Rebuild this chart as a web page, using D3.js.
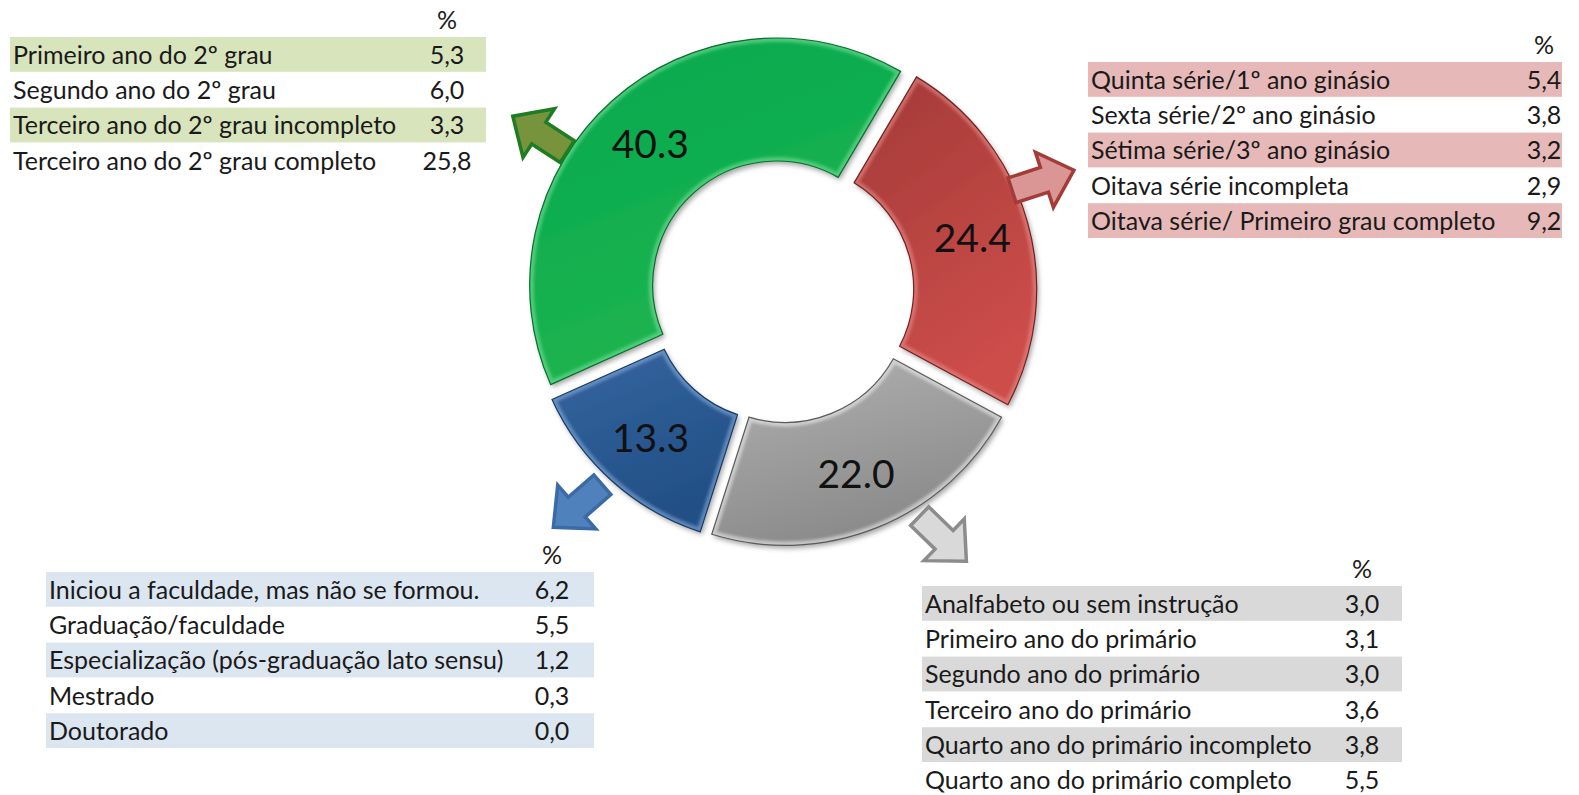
<!DOCTYPE html>
<html>
<head>
<meta charset="utf-8">
<script src="https://cdn.jsdelivr.net/npm/d3@7"></script>
<style>
  body { margin: 0; background: #fff; }
  svg { display: block; }
</style>
</head>
<body>
<script>
// donut slices, in drawing order (clockwise)
var segNames  = ["Ginásio", "Primário", "Superior", "Segundo grau"];
var segValues = [24.4, 22.0, 13.3, 40.3];

// tables
var greenLabels = ["Primeiro ano do 2º grau", "Segundo ano do 2º grau",
                   "Terceiro ano do 2º grau incompleto", "Terceiro ano do 2º grau completo"];
var greenValues = [5.3, 6.0, 3.3, 25.8];

var redLabels = ["Quinta série/1º ano ginásio", "Sexta série/2º ano ginásio",
                 "Sétima série/3º ano ginásio", "Oitava série incompleta",
                 "Oitava série/ Primeiro grau completo"];
var redValues = [5.4, 3.8, 3.2, 2.9, 9.2];

var blueLabels = ["Iniciou a faculdade, mas não se formou.", "Graduação/faculdade",
                  "Especialização (pós-graduação lato sensu)", "Mestrado", "Doutorado"];
var blueValues = [6.2, 5.5, 1.2, 0.3, 0.0];

var grayLabels = ["Analfabeto ou sem instrução", "Primeiro ano do primário",
                  "Segundo ano do primário", "Terceiro ano do primário",
                  "Quarto ano do primário incompleto", "Quarto ano do primário completo"];
var grayValues = [3.0, 3.1, 3.0, 3.6, 3.8, 5.5];

var width = 1579, height = 795;
var cx = 782, cy = 291, rOuter = 247, rInner = 124, explode = 8;
var fontFam = "Lato, 'Open Sans', sans-serif";

var svg = d3.select("body").append("svg")
    .attr("width", width)
    .attr("height", height);

var defs = svg.append("defs");

// soft shadow under the slices
var shadow = defs.append("filter").attr("id", "shadow")
    .attr("x", "-20%").attr("y", "-20%").attr("width", "140%").attr("height", "140%");
shadow.append("feDropShadow")
    .attr("dx", 2).attr("dy", 3).attr("stdDeviation", 2.5)
    .attr("flood-color", "#000").attr("flood-opacity", 0.35);

var blur = defs.append("filter").attr("id", "blur");
blur.append("feGaussianBlur").attr("stdDeviation", 1.6);

// colours per slice: top, bottom, edge, rim
var sliceStyle = [
    {top: "#a23a37", bottom: "#cc4d4a", edge: "#6e2321", rim: "#e88a88"},
    {top: "#b2b2b2", bottom: "#8a8a8a", edge: "#5a5a5a", rim: "#ececec"},
    {top: "#3565a0", bottom: "#224f85", edge: "#173a63", rim: "#86acdc"},
    {top: "#00a84f", bottom: "#22b54f", edge: "#0b6e31", rim: "#74e096"}
];

var pie = d3.pie().sort(null).value(function(d){ return d; })
    .startAngle(30.5 * Math.PI / 180)
    .endAngle(30.5 * Math.PI / 180 + 2 * Math.PI)
    .padAngle(0.012);

var arc = d3.arc().innerRadius(rInner).outerRadius(rOuter);
var labelArc = d3.arc().innerRadius((rInner + rOuter) / 2 + 4).outerRadius((rInner + rOuter) / 2 + 4);

var arcs = pie(segValues);

arcs.forEach(function(a, i){
    var s = sliceStyle[i];
    var g = defs.append("linearGradient").attr("id", "grad" + i)
        .attr("x1", 0).attr("y1", 0).attr("x2", 0.4).attr("y2", 1);
    g.append("stop").attr("offset", "0%").attr("stop-color", s.top);
    g.append("stop").attr("offset", "100%").attr("stop-color", s.bottom);
    defs.append("clipPath").attr("id", "clip" + i)
        .append("path").attr("d", arc(a));
});

var donut = svg.append("g").attr("transform", "translate(" + cx + "," + cy + ")");

var slices = donut.selectAll("g.slice")
    .data(arcs)
    .enter()
    .append("g")
    .attr("class", "slice")
    .attr("transform", function(d){
        var mid = (d.startAngle + d.endAngle) / 2;
        return "translate(" + (Math.sin(mid) * explode) + "," + (-Math.cos(mid) * explode) + ")";
    });

slices.append("path")
    .attr("d", arc)
    .attr("fill", function(d, i){ return "url(#grad" + i + ")"; })
    .attr("filter", "url(#shadow)");

// bevel rim
slices.append("path")
    .attr("d", arc)
    .attr("fill", "none")
    .attr("stroke", function(d, i){ return sliceStyle[i].rim; })
    .attr("stroke-opacity", 0.6)
    .attr("stroke-width", 8)
    .attr("clip-path", function(d, i){ return "url(#clip" + i + ")"; })
    .attr("filter", "url(#blur)");

slices.append("path")
    .attr("d", arc)
    .attr("fill", "none")
    .attr("stroke", function(d, i){ return sliceStyle[i].edge; })
    .attr("stroke-width", 1.2);

slices.append("text")
    .attr("transform", function(d){ return "translate(" + labelArc.centroid(d) + ")"; })
    .attr("text-anchor", "middle")
    .attr("dy", "0.36em")
    .attr("font-family", fontFam)
    .attr("font-size", 39)
    .attr("fill", "#111")
    .text(function(d){ return d3.format(".1f")(d.data); });

// block arrows pointing from each slice to its table
var arrowPlace = [
    {pos: 67,    r: 283, dir: 72,  fill: "#d99694", stroke: "#a33b38"},
    {pos: 147,   r: 295, dir: 134, fill: "#d9d9d9", stroke: "#8c8c8c"},
    {pos: 223.5, r: 296, dir: 229, fill: "#4f81bd", stroke: "#3b6aa5"},
    {pos: 303,   r: 288, dir: 303, fill: "#77933c", stroke: "#1e7d22"}
];
var arrowShape = [[-32,-13],[2,-13],[2,-29],[33,0],[2,29],[2,13],[-32,13]];

svg.selectAll("path.arrow")
    .data(arrowPlace)
    .enter()
    .append("path")
    .attr("class", "arrow")
    .attr("d", d3.line()(arrowShape) + "Z")
    .attr("transform", function(d){
        var a = d.pos * Math.PI / 180;
        var x = cx + Math.sin(a) * d.r, y = cy - Math.cos(a) * d.r;
        return "translate(" + x + "," + y + ") rotate(" + (d.dir - 90) + ")";
    })
    .attr("fill", function(d){ return d.fill; })
    .attr("stroke", function(d){ return d.stroke; })
    .attr("stroke-width", 3.5)
    .attr("stroke-linejoin", "miter");

// tables
var rowH = 35.3;
var fmt = function(v){ return d3.format(".1f")(v).replace(".", ","); };

var tables = [
    {labels: greenLabels, values: greenValues, x0: 10,   x1: 486,  top: 37,  valX: 447,  fill: "#d8e4bc"},
    {labels: redLabels,   values: redValues,   x0: 1088, x1: 1562, top: 62,  valX: 1544, fill: "#e6b9b8"},
    {labels: blueLabels,  values: blueValues,  x0: 46,   x1: 594,  top: 572, valX: 552,  fill: "#dce6f1"},
    {labels: grayLabels,  values: grayValues,  x0: 922,  x1: 1402, top: 586, valX: 1362, fill: "#d9d9d9"}
];

tables.forEach(function(t){
    var y = d3.scaleBand()
        .domain(d3.range(t.labels.length))
        .range([t.top, t.top + rowH * t.labels.length]);
    var g = svg.append("g").attr("font-family", fontFam).attr("font-size", 25).attr("fill", "#1a1a1a");

    g.append("text")
        .attr("x", t.valX)
        .attr("y", t.top - 8)
        .attr("text-anchor", "middle")
        .text("%");

    g.selectAll("rect")
        .data(d3.range(t.labels.length).filter(function(i){ return i % 2 === 0; }))
        .enter()
        .append("rect")
        .attr("x", t.x0)
        .attr("width", t.x1 - t.x0)
        .attr("y", function(i){ return y(i); })
        .attr("height", y.bandwidth() - 0.5)
        .attr("fill", t.fill);

    g.selectAll("text.lab")
        .data(t.labels)
        .enter()
        .append("text")
        .attr("class", "lab")
        .attr("x", t.x0 + 3)
        .attr("y", function(d, i){ return y(i) + y.bandwidth() / 2 + 9; })
        .text(function(d){ return d; });

    g.selectAll("text.val")
        .data(t.values)
        .enter()
        .append("text")
        .attr("class", "val")
        .attr("x", t.valX)
        .attr("text-anchor", "middle")
        .attr("y", function(d, i){ return y(i) + y.bandwidth() / 2 + 9; })
        .text(fmt);
});
</script>
</body>
</html>
